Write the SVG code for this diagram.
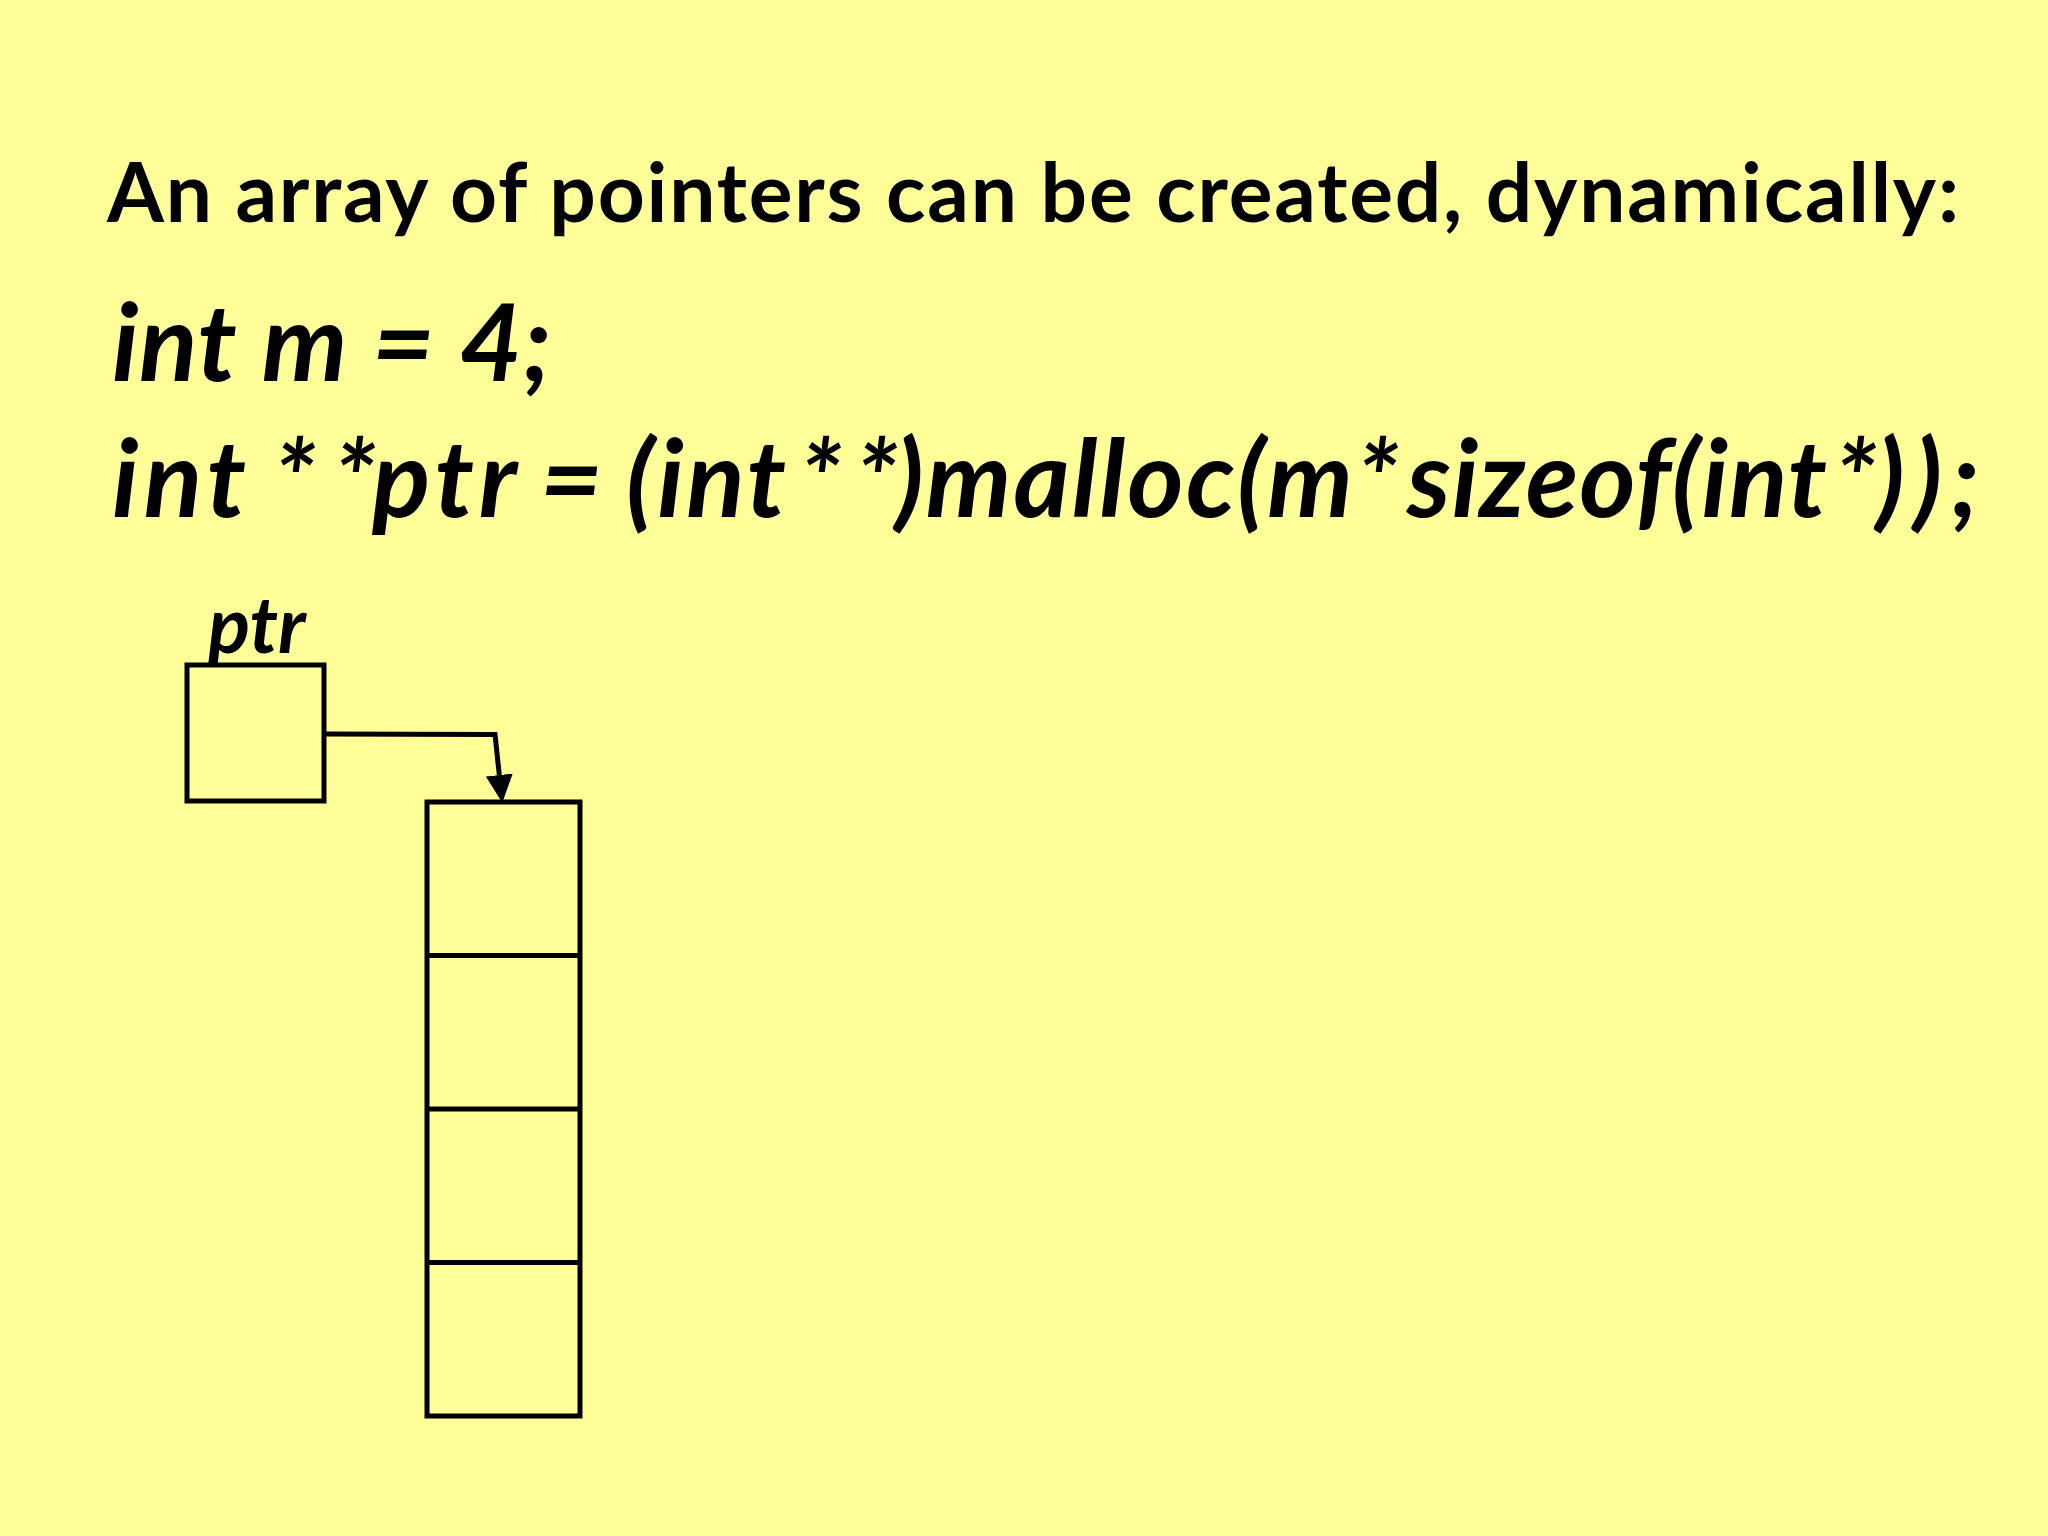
<svg xmlns="http://www.w3.org/2000/svg" width="2048" height="1536" viewBox="0 0 2048 1536">
<defs>
<style>
.t{font-family:Lato,"Liberation Sans",sans-serif;fill:#000}
.title{font-weight:bold;font-size:82px}
.code{font-weight:bold;font-style:italic;font-size:108px}
.lbl{font-weight:bold;font-style:italic;font-size:78px}
.box{fill:none;stroke:#000;stroke-width:5}
.conn{fill:none;stroke:#000;stroke-width:5}
</style>
<marker id="ah" viewBox="0 0 28 27" refX="0" refY="13.5" markerWidth="28" markerHeight="27" markerUnits="userSpaceOnUse" orient="auto">
<path d="M0,0 L28,13.5 L0,27 Z" fill="#000"/>
</marker>
</defs>
<rect width="2048" height="1536" fill="#FFFF99"/>
<text class="t title" x="107" y="222" textLength="1852" lengthAdjust="spacing">An array of pointers can be created, dynamically:</text>
<text class="t code" x="112" y="381" textLength="440" lengthAdjust="spacing">int m = 4;</text>
<text class="t code" y="517"><tspan x="112" textLength="134" lengthAdjust="spacing">int</tspan><tspan x="273">*</tspan><tspan x="333">*</tspan><tspan x="372" textLength="145" lengthAdjust="spacing">ptr</tspan><tspan x="540">=</tspan><tspan x="626" textLength="160" lengthAdjust="spacing">(int</tspan><tspan x="799">*</tspan><tspan x="855">*</tspan><tspan x="895" textLength="458" lengthAdjust="spacing">)malloc(m</tspan><tspan x="1356">*</tspan><tspan x="1407" textLength="420" lengthAdjust="spacing">sizeof(int</tspan><tspan x="1834">*</tspan><tspan x="1876" textLength="104" lengthAdjust="spacing">));</tspan></text>
<g id="ptr">
<text class="t lbl" x="208" y="653">ptr</text>
<rect class="box" x="187" y="665" width="137" height="136"/>
</g>
<g id="array">
<rect class="box" x="427" y="802" width="153" height="614"/>
<line class="box" x1="427" y1="955.5" x2="580" y2="955.5"/>
<line class="box" x1="427" y1="1109" x2="580" y2="1109"/>
<line class="box" x1="427" y1="1262.5" x2="580" y2="1262.5"/>
</g>
<g id="connectors">
<polyline class="conn" points="324,734 495,734.5 499.3,775" marker-end="url(#ah)"/>
</g>
</svg>
